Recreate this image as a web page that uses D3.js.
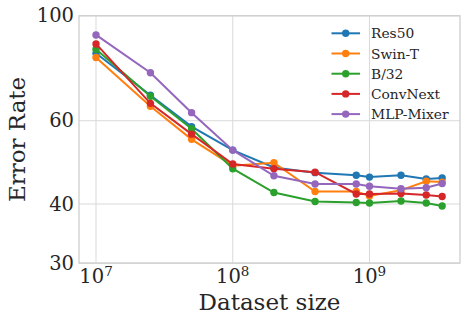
<!DOCTYPE html>
<html>
<head>
<meta charset="utf-8">
<script src="https://cdn.jsdelivr.net/npm/d3@7"></script>
<style>
  html, body { margin: 0; padding: 0; background: #fff; }
  svg { display: block; }
  text { font-family: "DejaVu Serif", serif; fill: #262626; }
</style>
</head>
<body>
<svg id="chart" width="468" height="323"></svg>
<script>
// ---- data ----
const datasetSizes = [1e7, 2.5e7, 5e7, 1e8, 2e8, 4e8, 8e8, 1e9, 1.7e9, 2.6e9, 3.4e9];
const seriesNames = ["Res50", "Swin-T", "B/32", "ConvNext", "MLP-Mixer"];
const res50     = [83.3, 67.9, 58.3, 52.0, 47.8, 46.6, 46.0, 45.6, 46.0, 45.2, 45.4];
const swinT     = [81.6, 64.4, 54.8, 48.2, 48.9, 42.5, 42.5, 41.6, 42.8, 44.7, 44.5];
const b32       = [85.0, 67.6, 57.7, 47.5, 42.3, 40.5, 40.3, 40.2, 40.6, 40.2, 39.6];
const convNext  = [87.2, 65.3, 56.2, 48.6, 47.5, 46.7, 42.0, 42.0, 42.1, 41.8, 41.5];
const mlpMixer  = [91.1, 75.8, 62.4, 52.0, 45.9, 44.1, 44.1, 43.6, 43.1, 43.3, 44.2];
const seriesValues = [res50, swinT, b32, convNext, mlpMixer];
const colors = ["#1f77b4", "#ff7f0e", "#2ca02c", "#d62728", "#9467bd"];
const yTicks = [30, 40, 60, 100];
const xTicks = [1e7, 1e8, 1e9];
const xLabel = "Dataset size";
const yLabel = "Error Rate";

// ---- layout ----
const svg = d3.select("#chart");
const pL = 79, pR = 460, pT = 15.8, pB = 263.1;

const x = d3.scaleLog().domain([Math.pow(10, 6.8756), Math.pow(10, 9.662)]).range([pL, pR]);
const y = d3.scaleLog().domain([30, 100]).range([pB, pT]);

// grid
const g = svg.append("g");
g.selectAll(".xgrid").data(xTicks).enter().append("line")
  .attr("x1", d => x(d)).attr("x2", d => x(d))
  .attr("y1", pT).attr("y2", pB)
  .attr("stroke", "#d9d9d9").attr("stroke-width", 1);
g.selectAll(".ygrid").data(yTicks).enter().append("line")
  .attr("x1", pL).attr("x2", pR)
  .attr("y1", d => y(d)).attr("y2", d => y(d))
  .attr("stroke", "#d9d9d9").attr("stroke-width", 1);

// spines
g.append("rect").attr("x", pL).attr("y", pT)
  .attr("width", pR - pL).attr("height", pB - pT)
  .attr("fill", "none").attr("stroke", "#cccccc").attr("stroke-width", 1.25);

// y tick labels
g.selectAll(".ytl").data(yTicks).enter().append("text")
  .attr("x", pL - 5).attr("y", d => y(d))
  .attr("text-anchor", "end").attr("dominant-baseline", "central")
  .style("font-size", "19.5px")
  .text(d => d);

// x tick labels with superscript exponents
const xt = g.selectAll(".xtl").data(xTicks).enter().append("text")
  .attr("x", d => x(d)).attr("y", 283)
  .attr("text-anchor", "middle")
  .style("font-size", "19.5px");
xt.append("tspan").text("10");
xt.append("tspan").attr("dy", -7.5).style("font-size", "13.5px")
  .text(d => Math.round(Math.log10(d)));

// axis labels
g.append("text").attr("x", (pL + pR) / 2).attr("y", 309.5)
  .attr("text-anchor", "middle").style("font-size", "23px").text(xLabel);
g.append("text")
  .attr("transform", `translate(25,${(pT + pB) / 2}) rotate(-90)`)
  .attr("text-anchor", "middle").style("font-size", "23px").text(yLabel);

// series
const line = d3.line().x((d, i) => x(datasetSizes[i])).y(d => y(d));
seriesValues.forEach((vals, si) => {
  const sg = svg.append("g");
  sg.append("path").datum(vals).attr("d", line)
    .attr("fill", "none").attr("stroke", colors[si]).attr("stroke-width", 2);
  sg.selectAll("circle").data(vals).enter().append("circle")
    .attr("cx", (d, i) => x(datasetSizes[i])).attr("cy", d => y(d))
    .attr("r", 3.7).attr("fill", colors[si]);
});

// legend
const leg = svg.append("g");
seriesNames.forEach((name, i) => {
  const ly = 33.3 + i * 20.2;
  leg.append("line").attr("x1", 331.5).attr("x2", 360).attr("y1", ly).attr("y2", ly)
    .attr("stroke", colors[i]).attr("stroke-width", 2);
  leg.append("circle").attr("cx", 345.7).attr("cy", ly).attr("r", 3.7).attr("fill", colors[i]);
  leg.append("text").attr("x", 371).attr("y", ly).attr("dominant-baseline", "central")
    .style("font-size", "13.8px").text(name);
});
</script>
</body>
</html>
